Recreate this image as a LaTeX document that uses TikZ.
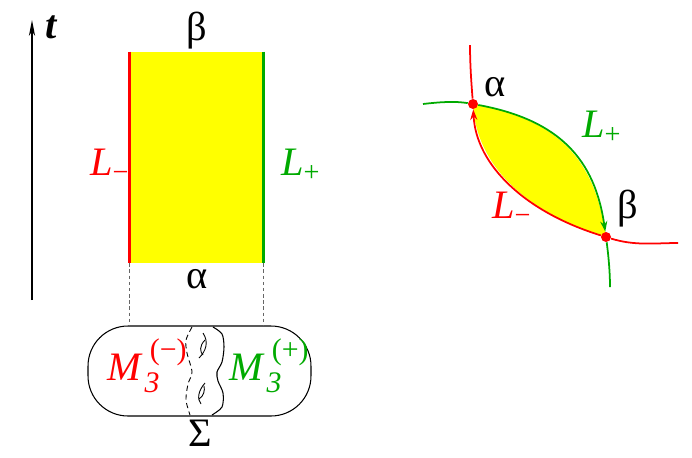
\documentclass[tikz,border=0pt]{standalone}
\usepackage{amsmath}
\usepackage{fontspec}
\setmainfont{Liberation Serif}
\usetikzlibrary{arrows.meta}
\definecolor{Lred}{HTML}{FF0000}
\definecolor{Lgreen}{HTML}{00AA00}
\definecolor{Lyellow}{HTML}{FFFF00}
\newcommand{\Mlab}[1]{\textit{M}\kern1pt\rlap{\raisebox{-0.3em}{\fontsize{17}{17}\selectfont\textit{3}}}\kern3pt\raisebox{0.5em}{\fontsize{17}{17}\selectfont(#1)}}

\begin{document}
\begin{tikzpicture}[x=0.02cm, y=-0.02cm, font=\fontsize{23}{27}\selectfont,
    dot/.style={circle, fill=Lred, inner sep=0pt, minimum size=0.2cm},
    guide/.style={gray!80!black, line width=0.4pt, dash pattern=on 2pt off 1.5pt}]
\useasboundingbox (0,0) rectangle (692,457);

% time axis
\coordinate (tlow) at (32,300);
\coordinate (thigh) at (32,20);
\draw[line width=0.6pt, -{Stealth[length=9pt, width=3.5pt, inset=2.5pt]}] (tlow) -- (thigh);
\node[anchor=base] (tlab) at (52,38) {\textbf{\textit{t}}};

% the strip
\node[fill=Lyellow, minimum width=2.66cm, minimum height=4.22cm, inner sep=0pt]
    (strip) at (196.5,157.5) {};
\draw[Lred, line width=1.7pt] (strip.north west) -- (strip.south west);
\draw[Lgreen, line width=1.7pt] (strip.north east) -- (strip.south east);
\node[anchor=base] (btop) at (197,40) {β};
\node[anchor=base] (abot) at (197,288) {α};
\node[anchor=base west, text=Lred] (Lm) at (84,175) {$\textit{L}_{\text{−}}$};
\node[anchor=base west, text=Lgreen] (Lp) at (275,175) {$\textit{L}_{\text{+}}$};

% the surface
\node[draw, line width=0.6pt, rounded corners=0.8cm, minimum width=4.46cm,
      minimum height=1.8cm, inner sep=0pt] (surf) at (199.5,371) {};
\draw[guide] (strip.south west) -- (strip.south west |- surf.north);
\draw[guide] (strip.south east) -- (strip.south east |- surf.north);
\draw[line width=0.5pt, dash pattern=on 3pt off 2pt] plot[smooth] coordinates
    {(192,327) (186,340) (187,353) (192,372) (188,384) (186,400) (190,415)};
\draw[line width=0.6pt] plot[smooth] coordinates
    {(213,327) (222,334) (224,347) (222,362) (217,372) (218,381) (223,393) (222,407) (212,415)};
\draw[line width=0.5pt] (203,333) .. controls (209,342) and (206,351) .. (199,358);
\draw[line width=0.5pt] (205,340) .. controls (199,346) and (200,352) .. (203,355);
\draw[line width=0.5pt] (205,383) .. controls (198,391) and (197,399) .. (201,404);
\draw[line width=0.5pt] (199,399) .. controls (204,396) and (205,390) .. (204,386);
\node[anchor=base west, text=Lred, inner sep=0pt] (Mm) at (107,380) {\Mlab{−}};
\node[anchor=base west, text=Lgreen, inner sep=0pt] (Mp) at (229,380) {\Mlab{+}};
\node[anchor=base] (sig) at (200,446) {Σ};

% the disk between the two branes
\coordinate (pa) at (473,104);
\coordinate (pb) at (606,237);
\coordinate (redtop) at (470,45);
\coordinate (redend) at (678,243);
\coordinate (grleft) at (423,104);
\coordinate (grend) at (610,287);
\fill[Lyellow] (pa) .. controls (560,120) and (595,160) .. (pb)
    .. controls (525,212) and (476,165) .. (pa) -- cycle;
\node[dot] (alpha) at (pa) {};
\node[dot] (beta) at (pb) {};
\draw[Lred, line width=1pt, -{Stealth[length=6pt, width=4pt]}]
    (beta) .. controls (525,212) and (476,165) .. (alpha);
\draw[Lred, line width=1pt] (alpha) .. controls (471.5,85) and (470,65) .. (redtop);
\draw[Lred, line width=1pt] (beta) .. controls (635,246) and (655,243) .. (redend);
\draw[Lgreen, line width=1pt, -{Stealth[length=6pt, width=4pt]}]
    (alpha) .. controls (560,120) and (595,160) .. (beta);
\draw[Lgreen, line width=1pt] (alpha) .. controls (455,101) and (440,102) .. (grleft);
\draw[Lgreen, line width=1pt] (beta) .. controls (609,260) and (610,275) .. (grend);
\node[anchor=base] (alab) at (495,96) {α};
\node[anchor=base] (blab) at (628,218) {β};
\node[anchor=base west, text=Lgreen] (Lpr) at (576,137) {$\textit{L}_{\text{+}}$};
\node[anchor=base west, text=Lred] (Lmr) at (486,218) {$\textit{L}_{\text{−}}$};
\end{tikzpicture}
\end{document}
